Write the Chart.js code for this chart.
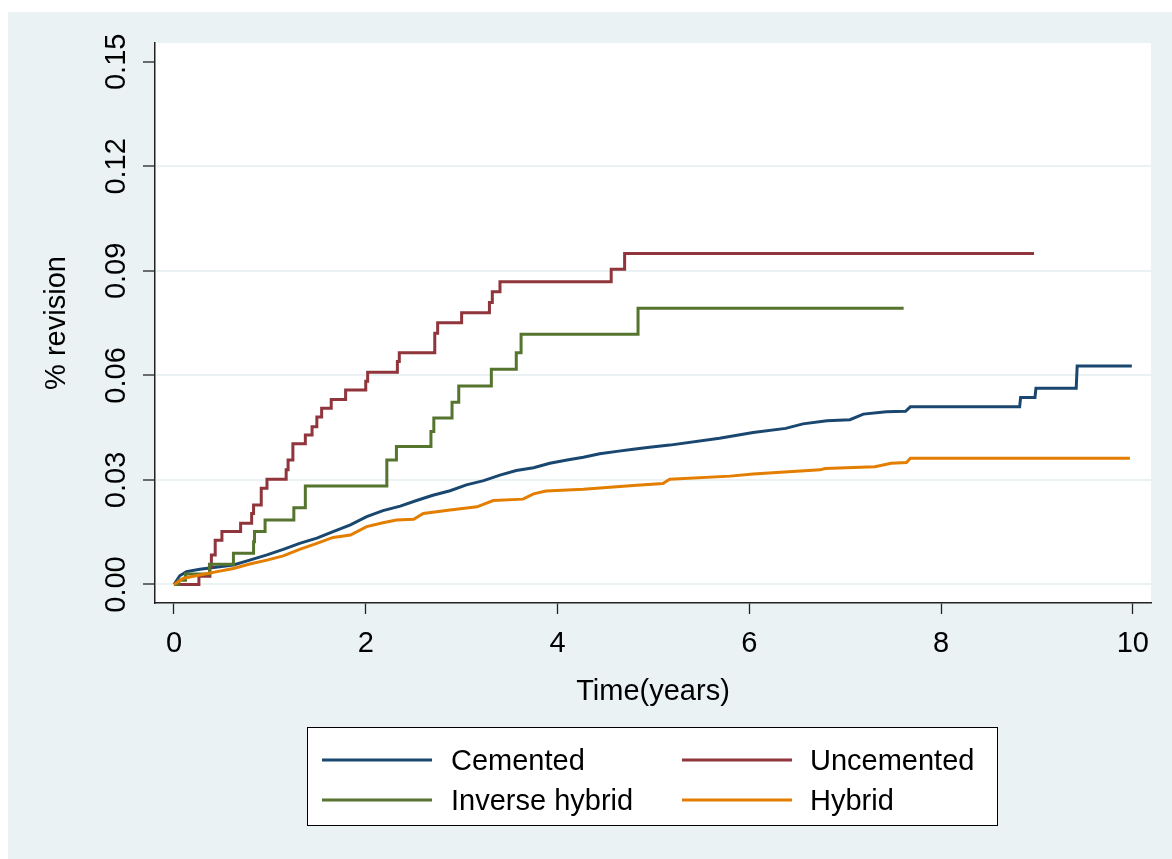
<!DOCTYPE html>
<html>
<head>
<meta charset="utf-8">
<title>Cumulative revision by fixation type</title>
<script src="https://cdn.jsdelivr.net/npm/chart.js@4"></script>
<style>
  html, body { margin: 0; padding: 0; background: #fff; }
  canvas { display: block; }
</style>
</head>
<body>
<canvas id="revision-chart" width="1172" height="859"></canvas>
<script>
// Cumulative revision curves (Kaplan-Meier style) per fixation group
const cementedTime = [0, 0.06, 0.13, 0.27, 0.62, 0.79, 0.97, 1.14, 1.31, 1.49, 1.66, 1.84, 2.01, 2.18, 2.36, 2.53, 2.70, 2.88, 3.05, 3.23, 3.40, 3.57, 3.75, 3.92, 4.10, 4.27, 4.44, 4.62, 4.79, 4.96, 5.17, 5.69, 6.04, 6.38, 6.56, 6.81, 7.05, 7.19, 7.43, 7.63, 7.68, 8.82, 8.83, 8.98, 8.99, 9.41, 9.42, 9.99];
const cementedRev = [0, 0.0025, 0.0037, 0.0044, 0.0056, 0.0070, 0.0085, 0.0101, 0.0118, 0.0133, 0.0152, 0.0171, 0.0195, 0.0212, 0.0225, 0.0241, 0.0256, 0.0269, 0.0286, 0.0298, 0.0314, 0.0327, 0.0335, 0.0348, 0.0357, 0.0365, 0.0375, 0.0382, 0.0388, 0.0394, 0.0400, 0.0420, 0.0436, 0.0448, 0.0461, 0.0470, 0.0473, 0.0489, 0.0496, 0.0497, 0.0510, 0.0510, 0.0537, 0.0537, 0.0563, 0.0563, 0.0627, 0.0627];

const uncementedTime = [0, 0.26, 0.375, 0.39, 0.43, 0.50, 0.695, 0.81, 0.83, 0.91, 0.97, 1.17, 1.19, 1.24, 1.37, 1.44, 1.49, 1.54, 1.64, 1.79, 2.00, 2.02, 2.33, 2.35, 2.72, 2.75, 3.00, 3.29, 3.32, 3.40, 4.56, 4.70, 8.97];
const uncementedRev = [0, 0.0024, 0.0050, 0.0085, 0.0127, 0.0152, 0.0176, 0.0204, 0.0228, 0.0276, 0.0302, 0.0329, 0.0357, 0.0404, 0.0429, 0.0453, 0.0481, 0.0506, 0.0531, 0.0558, 0.0583, 0.0609, 0.0640, 0.0665, 0.0721, 0.0751, 0.0780, 0.0809, 0.0840, 0.0869, 0.0905, 0.0950, 0.0950];

const inverseTime = [0, 0.05, 0.12, 0.37, 0.62, 0.83, 0.84, 0.95, 1.25, 1.37, 2.22, 2.32, 2.68, 2.71, 2.90, 2.97, 3.31, 3.57, 3.62, 4.84, 7.61];
const inverseRev = [0, 0.0012, 0.0030, 0.0058, 0.0090, 0.0123, 0.0152, 0.0185, 0.0220, 0.0283, 0.0357, 0.0396, 0.0439, 0.0478, 0.0523, 0.0570, 0.0618, 0.0665, 0.0718, 0.0793, 0.0793];

const hybridTime = [0, 0.10, 0.27, 0.45, 0.62, 0.79, 0.97, 1.14, 1.31, 1.49, 1.66, 1.84, 2.01, 2.18, 2.32, 2.50, 2.60, 2.88, 3.16, 3.33, 3.64, 3.75, 3.88, 4.27, 4.79, 5.10, 5.17, 5.80, 6.04, 6.74, 6.79, 7.31, 7.48, 7.64, 7.68, 9.97];
const hybridRev = [0, 0.0018, 0.0027, 0.0037, 0.0046, 0.0059, 0.0070, 0.0082, 0.0101, 0.0118, 0.0135, 0.0142, 0.0166, 0.0177, 0.0185, 0.0187, 0.0204, 0.0214, 0.0223, 0.0241, 0.0245, 0.0260, 0.0268, 0.0273, 0.0284, 0.0290, 0.0302, 0.0311, 0.0317, 0.0329, 0.0333, 0.0338, 0.0348, 0.0350, 0.0362, 0.0362];

const groupNames = ["Cemented", "Uncemented", "Inverse hybrid", "Hybrid"];
const groupColors = ["#1a476f", "#90353b", "#55752f", "#e37e00"];

const xTicks = [0, 2, 4, 6, 8, 10];
const yTicks = [0, 0.03, 0.06, 0.09, 0.12, 0.15];

const pageBg = "#eaf2f3";
const fontFamily = "'Liberation Sans', Arial, sans-serif";
const axisFont = { family: fontFamily, size: 29 };

function toPoints(times, values) {
  return times.map((t, i) => ({ x: t, y: values[i] }));
}

// light bluish page with a white plot region
const backdrop = {
  id: "backdrop",
  beforeDraw(chart) {
    const { ctx, chartArea } = chart;
    ctx.save();
    ctx.fillStyle = "#fff";
    ctx.fillRect(0, 0, chart.width, chart.height);
    ctx.fillStyle = pageBg;
    ctx.fillRect(8, 12, chart.width - 8, chart.height - 12);
    ctx.fillStyle = "#fff";
    ctx.fillRect(chartArea.left, chartArea.top, chartArea.right - chartArea.left, chartArea.bottom - chartArea.top);
    ctx.restore();
  },
};

// boxed two-column legend under the x axis title
const legendBox = {
  id: "legendBox",
  afterDraw(chart) {
    const ctx = chart.ctx;
    ctx.save();
    ctx.fillStyle = "#fff";
    ctx.fillRect(307, 727, 691, 99);
    ctx.strokeStyle = "#000";
    ctx.lineWidth = 1;
    ctx.strokeRect(307.5, 727.5, 690, 98);

    ctx.font = "29px " + fontFamily;
    ctx.textBaseline = "middle";
    ctx.textAlign = "left";
    chart.data.datasets.forEach((ds, i) => {
      const col = i % 2;
      const row = Math.floor(i / 2);
      const lineX = col === 0 ? 322 : 682;
      const textX = col === 0 ? 451 : 810;
      const y = row === 0 ? 760 : 800;
      ctx.strokeStyle = ds.borderColor;
      ctx.lineWidth = 3;
      ctx.beginPath();
      ctx.moveTo(lineX, y);
      ctx.lineTo(lineX + 110, y);
      ctx.stroke();
      ctx.fillStyle = "#000";
      ctx.fillText(ds.label, textX, y + 2);
    });
    ctx.restore();
  },
};

const datasets = [
  { label: groupNames[0], data: toPoints(cementedTime, cementedRev), stepped: false, order: 3 },
  { label: groupNames[1], data: toPoints(uncementedTime, uncementedRev), stepped: true, order: 2 },
  { label: groupNames[2], data: toPoints(inverseTime, inverseRev), stepped: true, order: 1 },
  { label: groupNames[3], data: toPoints(hybridTime, hybridRev), stepped: false, order: 0 },
].map((ds, i) => ({
  ...ds,
  borderColor: groupColors[i],
  borderWidth: 3,
  pointRadius: 0,
  fill: false,
  tension: 0,
}));

const ctx = document.getElementById("revision-chart").getContext("2d");
const chart = new Chart(ctx, {
  type: "line",
  data: { datasets },
  plugins: [backdrop, legendBox],
  options: {
    responsive: false,
    animation: false,
    devicePixelRatio: 1,
    layout: { padding: { left: 8, top: 43, right: 21, bottom: 146 } },
    plugins: {
      legend: { display: false },
      tooltip: { enabled: false },
    },
    scales: {
      x: {
        type: "linear",
        min: -0.198,
        max: 10.19,
        afterBuildTicks: (scale) => {
          scale.ticks = xTicks.map((v) => ({ value: v }));
        },
        afterFit: (scale) => {
          scale.height = 110;
          scale.paddingLeft = 0;
          scale.paddingRight = 0;
        },
        grid: {
          drawOnChartArea: false,
          drawTicks: true,
          tickLength: 11,
          tickColor: "#222",
          tickWidth: 1.3,
        },
        border: { display: true, color: "#222", width: 1.5 },
        ticks: {
          color: "#000",
          font: axisFont,
          padding: 13,
          autoSkip: false,
          maxRotation: 0,
          callback: (v) => String(v),
        },
        title: {
          display: true,
          text: "Time(years)",
          color: "#000",
          font: axisFont,
          padding: { top: 0, bottom: 4 },
        },
      },
      y: {
        type: "linear",
        min: -0.00531,
        max: 0.1554,
        afterBuildTicks: (scale) => {
          scale.ticks = yTicks.map((v) => ({ value: v }));
        },
        afterFit: (scale) => {
          scale.width = 147;
          scale.paddingTop = 0;
          scale.paddingBottom = 0;
        },
        grid: {
          drawOnChartArea: true,
          drawTicks: true,
          tickLength: 12,
          lineWidth: 2,
          color: (c) => (c.tick && c.tick.value >= 0.15 ? "rgba(0,0,0,0)" : pageBg),
          tickColor: "#222",
          tickWidth: 1.3,
        },
        border: { display: true, color: "#222", width: 1.5 },
        ticks: {
          color: "#000",
          font: axisFont,
          padding: -2,
          minRotation: 90,
          maxRotation: 90,
          crossAlign: "center",
          autoSkip: false,
          callback: (v) => Number(v).toFixed(2),
        },
        title: {
          display: true,
          text: "% revision",
          color: "#000",
          font: axisFont,
          padding: { top: 32, bottom: 0 },
        },
      },
    },
  },
});
</script>
</body>
</html>
